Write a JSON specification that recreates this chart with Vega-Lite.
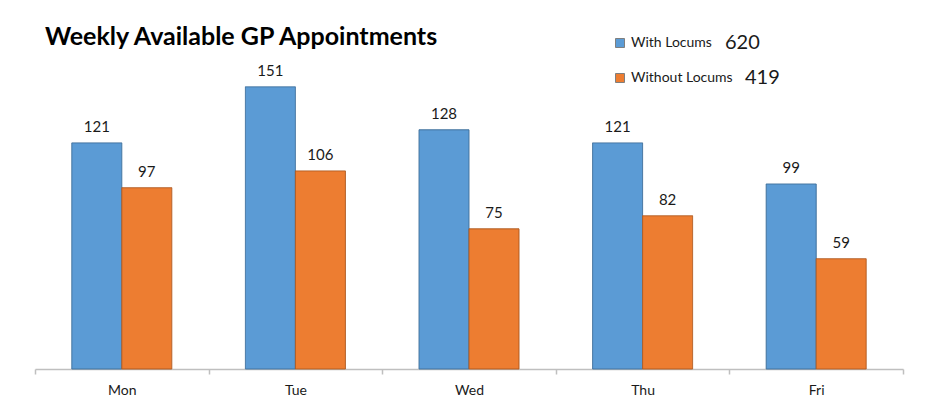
{
  "$schema": "https://vega.github.io/schema/vega-lite/v6.json",
  "width": 868,
  "height": 299,
  "autosize": {"type": "none"},
  "padding": {"left": 35, "top": 70, "right": 37, "bottom": 35},
  "background": "white",
  "config": {"view": {"stroke": null}, "font": "Lato"},
  "title": {
    "text": "Weekly Available GP Appointments",
    "anchor": "start",
    "frame": "group",
    "font": "Lato",
    "fontSize": 25,
    "fontWeight": "bold",
    "color": "#000000",
    "baseline": "alphabetic",
    "offset": -37,
    "dx": 10
  },
  "data": {
    "values": [
      {"day": "Mon", "series": "With Locums", "value": 121, "total": "620", "series_total": "620"},
      {"day": "Mon", "series": "Without Locums", "value": 97, "total": "419", "series_total": "419"},
      {"day": "Tue", "series": "With Locums", "value": 151, "total": "620", "series_total": "620"},
      {"day": "Tue", "series": "Without Locums", "value": 106, "total": "419", "series_total": "419"},
      {"day": "Wed", "series": "With Locums", "value": 128, "total": "620", "series_total": "620"},
      {"day": "Wed", "series": "Without Locums", "value": 75, "total": "419", "series_total": "419"},
      {"day": "Thu", "series": "With Locums", "value": 121, "total": "620", "series_total": "620"},
      {"day": "Thu", "series": "Without Locums", "value": 82, "total": "419", "series_total": "419"},
      {"day": "Fri", "series": "With Locums", "value": 99, "total": "620", "series_total": "620"},
      {"day": "Fri", "series": "Without Locums", "value": 59, "total": "419", "series_total": "419"}
    ]
  },
  "encoding": {
    "x": {
      "field": "day",
      "type": "nominal",
      "sort": ["Mon", "Tue", "Wed", "Thu", "Fri"],
      "scale": {"paddingInner": 0, "paddingOuter": 0},
      "axis": {
        "title": null,
        "labelAngle": 0,
        "labelFont": "Lato",
        "labelFontSize": 14,
        "labelColor": "#1a1a1a",
        "labelPadding": 9,
        "domainColor": "#BFBFBF",
        "domainWidth": 1.5,
        "tickColor": "#BFBFBF",
        "tickWidth": 1.5,
        "tickSize": 5,
        "tickBand": "extent",
        "grid": false
      }
    },
    "xOffset": {
      "field": "series",
      "type": "nominal",
      "sort": ["With Locums", "Without Locums"],
      "scale": {"paddingInner": 0, "paddingOuter": 0.736}
    },
    "y": {
      "field": "value",
      "type": "quantitative",
      "scale": {"domain": [0, 160]},
      "axis": null
    }
  },
  "layer": [
    {
      "mark": {"type": "bar", "strokeWidth": 1},
      "encoding": {
        "fill": {
          "field": "series",
          "type": "nominal",
          "scale": {"domain": ["With Locums", "Without Locums"], "range": ["#5B9BD5", "#ED7D31"]},
          "legend": {
            "title": null,
            "orient": "none",
            "legendX": 578,
            "legendY": -34,
            "padding": 0,
            "symbolType": "square",
            "symbolSize": 81,
            "symbolStrokeWidth": 1,
            "symbolStrokeColor": "#7F7F7F",
            "labelFont": "Lato",
            "labelFontSize": 14,
            "labelColor": "#1a1a1a",
            "labelOffset": 4,
            "rowPadding": 21
          }
        },
        "stroke": {
          "field": "total",
          "type": "nominal",
          "scale": {"domain": ["620", "419"], "range": ["#41719C", "#AE5A21"]},
          "legend": {
            "title": null,
            "orient": "none",
            "values": ["620"],
            "legendX": 670,
            "legendY": -37,
            "padding": 0,
            "symbolSize": 0,
            "symbolStrokeWidth": 0,
            "symbolOpacity": 0,
            "labelFont": "Lato",
            "labelFontSize": 20,
            "labelColor": "#1a1a1a",
            "labelOffset": 0
          }
        },
        "strokeDash": {
          "field": "series_total",
          "type": "nominal",
          "scale": {"domain": ["419", "620"], "range": [[1, 0], [1, 0]]},
          "legend": {
            "title": null,
            "orient": "none",
            "values": ["419"],
            "legendX": 690,
            "legendY": -2,
            "padding": 0,
            "symbolSize": 0,
            "symbolStrokeWidth": 0,
            "symbolOpacity": 0,
            "labelFont": "Lato",
            "labelFontSize": 20,
            "labelColor": "#1a1a1a",
            "labelOffset": 0
          }
        }
      }
    },
    {
      "mark": {"type": "text", "baseline": "alphabetic", "dy": -11, "font": "Lato", "fontSize": 15, "color": "#1a1a1a"},
      "encoding": {
        "text": {"field": "value", "type": "quantitative"}
      }
    }
  ]
}
